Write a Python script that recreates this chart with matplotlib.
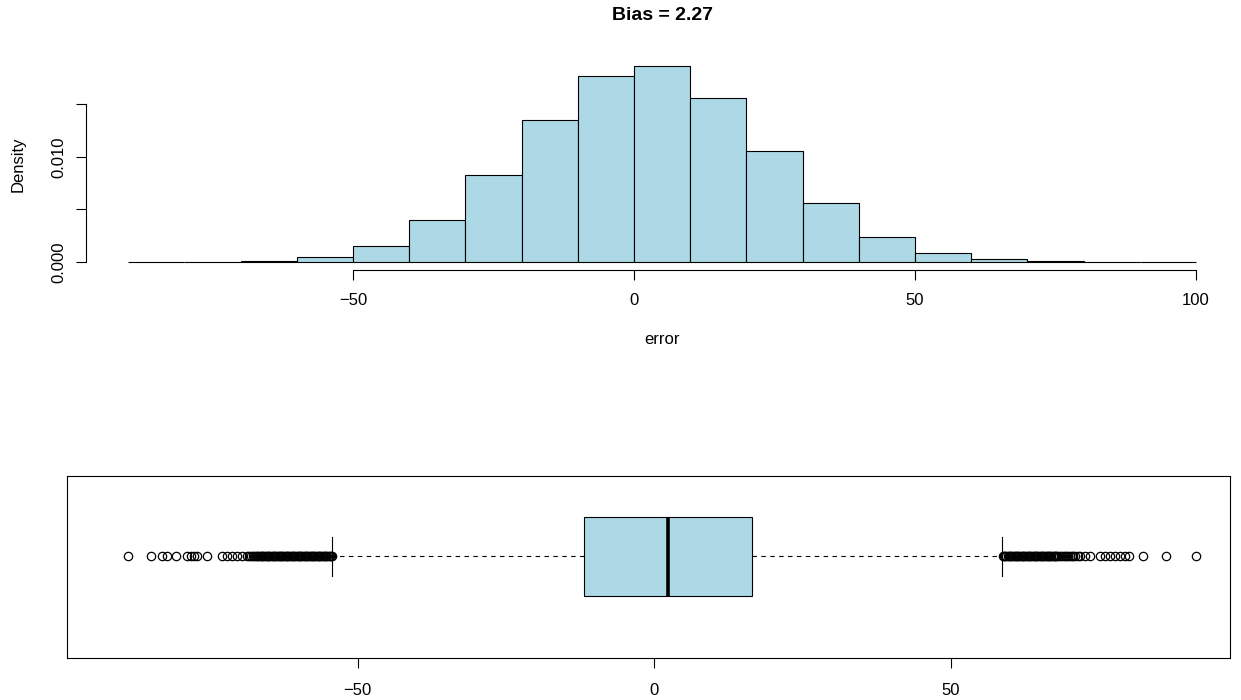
import matplotlib
matplotlib.use("Agg")
import matplotlib.pyplot as plt
import numpy as np

plt.rcParams['font.family'] = ['Liberation Sans', 'DejaVu Sans']

# ---------------- data ----------------
bin_edges = [-90, -80, -70, -60, -50, -40, -30, -20, -10, 0, 10, 20, 30, 40, 50, 60, 70, 80, 90, 100]
densities = [0.00001, 0.00002, 0.00005, 0.00048, 0.00152, 0.00400, 0.00829, 0.01352,
             0.01771, 0.01867, 0.01562, 0.01057, 0.00562, 0.00238, 0.00086, 0.00029,
             0.00010, 0.00003, 0.00001]
title = "Bias = 2.27"

box_q1, box_med, box_q3 = -11.8, 2.36, 16.5
whisker_lo, whisker_hi = -54.3, 58.7
outliers_low = [-88.7, -84.9, -83.0, -82.2, -80.6, -78.7, -78.1, -77.6, -77.0, -75.4,
                -72.9, -72.1, -71.2, -70.4, -69.5, -68.7, -68.3,
                -68.0, -67.7, -67.5, -67.2, -67.0, -66.8, -66.5, -66.3, -66.1, -65.9,
                -65.7, -65.5, -65.3, -65.1, -64.9, -64.7, -64.5, -64.3, -64.1, -63.9,
                -63.7, -63.5, -63.3, -63.1, -62.9, -62.7, -62.5, -62.3, -62.1, -61.9,
                -61.7, -61.5, -61.3, -61.1, -60.9, -60.7, -60.5, -60.3, -60.1, -59.9,
                -59.7, -59.5, -59.3, -59.1, -58.9, -58.7, -58.5, -58.3, -58.1, -57.9,
                -57.7, -57.5, -57.3, -57.1, -56.9, -56.7, -56.5, -56.3, -56.1, -55.9,
                -55.7, -55.5, -55.3, -55.1, -54.9, -54.7, -54.5, -54.4]
outliers_high = [58.8, 59.0, 59.2, 59.4, 59.6, 59.8, 60.0, 60.2, 60.4, 60.6, 60.8, 61.0,
                 61.2, 61.4, 61.6, 61.8, 62.0, 62.2, 62.4, 62.6, 62.8, 63.0, 63.2, 63.4,
                 63.6, 63.8, 64.0, 64.2, 64.4, 64.6, 64.8, 65.0, 65.2, 65.4, 65.6, 65.8,
                 66.0, 66.2, 66.4, 66.6, 66.8, 67.0, 67.2, 67.4, 67.6, 67.8, 68.0, 68.3,
                 68.6, 68.9, 69.2, 69.5, 69.8, 70.1, 70.4, 70.7, 71.0, 71.4, 71.8,
                 72.7, 73.5, 75.2, 76.1, 76.9, 77.7, 78.6, 79.4, 80.0, 82.5, 86.3, 91.4]

fill = '#ADD8E6'

fig = plt.figure(figsize=(12.41, 7.0), dpi=100)
W, H = 1241.0, 700.0

# ---------------- histogram ----------------
ax1 = fig.add_axes([85.5 / W, 1 - 269.8 / H, 1153.2 / W, 211.8 / H])
edges = np.array(bin_edges, dtype=float)
ax1.bar(edges[:-1], densities, width=np.diff(edges), align='edge',
        color=fill, edgecolor='black', linewidth=0.8)
rng = edges[-1] - edges[0]
ax1.set_xlim(edges[0] - 0.04 * rng, edges[-1] + 0.04 * rng)
dmax = max(densities)
ax1.set_ylim(-0.04 * dmax, dmax * 1.04)
for s in ['top', 'right']:
    ax1.spines[s].set_visible(False)
ax1.spines['bottom'].set_bounds(-50, 100)
ax1.spines['left'].set_bounds(0, 0.015)
ax1.set_xticks([-50, 0, 50, 100])
ax1.set_xticklabels(['\u221250', '0', '50', '100'])
ax1.set_yticks([0, 0.005, 0.010, 0.015])
ax1.set_yticklabels(['0.000', '', '0.010', ''], rotation=90, va='center')
ax1.tick_params(axis='both', labelsize=12, length=7, width=0.8)
ax1.tick_params(axis='x', pad=10)
ax1.tick_params(axis='y', pad=7)
ax1.set_xlabel('error', fontsize=12, labelpad=17)
ax1.set_ylabel('Density', fontsize=12, labelpad=18)
ax1.set_title(title, fontsize=14, fontweight='bold', pad=27)

# ---------------- boxplot ----------------
ax2 = fig.add_axes([67 / W, 1 - 658 / H, 1163 / W, 182 / H])
stats = [dict(med=box_med, q1=box_q1, q3=box_q3, whislo=whisker_lo, whishi=whisker_hi,
              fliers=np.array(outliers_low + outliers_high))]
ax2.bxp(stats, positions=[1], widths=0.8, vert=False, showfliers=True,
        patch_artist=True, capwidths=0.4,
        boxprops=dict(facecolor=fill, edgecolor='black', linewidth=0.8),
        medianprops=dict(color='black', linewidth=2.6),
        whiskerprops=dict(color='black', linewidth=0.8, linestyle=(0, (4, 4))),
        capprops=dict(color='black', linewidth=0.8),
        flierprops=dict(marker='o', markerfacecolor='none', markeredgecolor='black',
                        markersize=6, markeredgewidth=0.9, linestyle='none'))
ax2.set_xlim(-99.0, 97.1)
ax2.set_ylim(-0.028, 1.815)
ax2.set_yticks([])
ax2.set_xticks([-50, 0, 50])
ax2.set_xticklabels(['\u221250', '0', '50'])
ax2.tick_params(axis='x', labelsize=12, length=7, width=0.8, pad=11)
for s in ax2.spines.values():
    s.set_linewidth(0.8)

fig.savefig('out.png', dpi=100)
